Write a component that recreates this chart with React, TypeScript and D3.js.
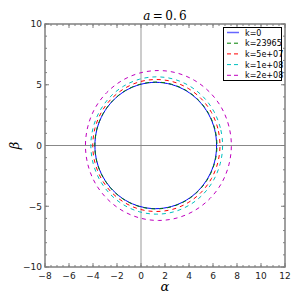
import React from "react";
import * as d3 from "d3";

// shadow outlines, [alpha, beta], going round from the right edge
const curveK0: [number, number][] = [
  [6.3, 0], [6.13, 1.35], [5.62, 2.6], [4.81, 3.68], [3.77, 4.5], [2.54, 5.02], [1.23, 5.2],
  [-0.08, 5.02], [-1.31, 4.5], [-2.35, 3.68], [-3.16, 2.6], [-3.67, 1.35], [-3.84, 0],
  [-3.67, -1.35], [-3.16, -2.6], [-2.35, -3.68], [-1.31, -4.5], [-0.08, -5.02], [1.23, -5.2],
  [2.54, -5.02], [3.77, -4.5], [4.81, -3.68], [5.62, -2.6], [6.13, -1.35],
];
const curveK23965: [number, number][] = [
  [6.33, 0], [6.16, 1.35], [5.65, 2.61], [4.84, 3.69], [3.79, 4.52], [2.56, 5.04], [1.24, 5.22],
  [-0.08, 5.04], [-1.31, 4.52], [-2.36, 3.69], [-3.17, 2.61], [-3.68, 1.35], [-3.85, 0],
  [-3.68, -1.35], [-3.17, -2.61], [-2.36, -3.69], [-1.31, -4.52], [-0.08, -5.04], [1.24, -5.22],
  [2.56, -5.04], [3.79, -4.52], [4.84, -3.69], [5.65, -2.61], [6.16, -1.35],
];
const curveK5e7: [number, number][] = [
  [6.58, 0], [6.4, 1.41], [5.87, 2.72], [5.03, 3.84], [3.93, 4.7], [2.65, 5.25], [1.28, 5.43],
  [-0.09, 5.25], [-1.37, 4.7], [-2.47, 3.84], [-3.31, 2.72], [-3.84, 1.41], [-4.02, 0],
  [-3.84, -1.41], [-3.31, -2.72], [-2.47, -3.84], [-1.37, -4.7], [-0.09, -5.25], [1.28, -5.43],
  [2.65, -5.25], [3.93, -4.7], [5.03, -3.84], [5.87, -2.72], [6.4, -1.41],
];
const curveK1e8: [number, number][] = [
  [6.8, 0], [6.61, 1.46], [6.06, 2.83], [5.19, 4.0], [4.06, 4.89], [2.73, 5.46], [1.31, 5.65],
  [-0.11, 5.46], [-1.44, 4.89], [-2.57, 4.0], [-3.44, 2.83], [-3.99, 1.46], [-4.18, 0],
  [-3.99, -1.46], [-3.44, -2.83], [-2.57, -4.0], [-1.44, -4.89], [-0.11, -5.46], [1.31, -5.65],
  [2.73, -5.46], [4.06, -4.89], [5.19, -4.0], [6.06, -2.83], [6.61, -1.46],
];
const curveK2e8: [number, number][] = [
  [7.53, 0], [7.32, 1.6], [6.72, 3.09], [5.75, 4.36], [4.49, 5.34], [3.02, 5.96], [1.45, 6.17],
  [-0.12, 5.96], [-1.59, 5.34], [-2.85, 4.36], [-3.82, 3.09], [-4.42, 1.6], [-4.63, 0],
  [-4.42, -1.6], [-3.82, -3.09], [-2.85, -4.36], [-1.59, -5.34], [-0.12, -5.96], [1.45, -6.17],
  [3.02, -5.96], [4.49, -5.34], [5.75, -4.36], [6.72, -3.09], [7.32, -1.6],
];

const seriesLabels = ["k=0", "k=23965", "k=5e+07", "k=1e+08", "k=2e+08"];
const seriesData = [curveK0, curveK23965, curveK5e7, curveK1e8, curveK2e8];
const seriesColors = ["#0000ff", "#008000", "#ff0000", "#00bfbf", "#bf00bf"];

const xTicks = [-8, -6, -4, -2, 0, 2, 4, 6, 8, 10, 12];
const yTicks = [-10, -5, 0, 5, 10];

const W = 300;
const H = 300;
const left = 45;
const right = 285;
const top = 24;
const bottom = 267;

const fmt = (v: number) => (v < 0 ? "\u2212" + Math.abs(v) : String(v));

export default function App() {
  const x = d3.scaleLinear().domain([-8, 12]).range([left, right]);
  const y = d3.scaleLinear().domain([-10, 10]).range([bottom, top]);
  const line = d3
    .line<[number, number]>()
    .x((d) => x(d[0]))
    .y((d) => y(d[1]))
    .curve(d3.curveCatmullRomClosed);

  const xMinor = x.ticks(40);
  const yMinor = y.ticks(20);
  const axisColor = "#808080";

  return (
    <svg
      width={W}
      height={H}
      style={{ position: "absolute", left: 0, top: 0, background: "#fff" }}
      fontFamily="DejaVu Sans"
    >
      <rect x={0} y={0} width={W} height={H} fill="#fff" />
      {/* zero lines */}
      <line x1={x(0)} x2={x(0)} y1={top} y2={bottom} stroke="#aaaaaa" strokeWidth={1.2} />
      <line x1={left} x2={right} y1={y(0)} y2={y(0)} stroke="#888888" strokeWidth={1} />

      {seriesData.map((pts, i) => (
        <path
          key={seriesLabels[i]}
          d={line(pts) ?? ""}
          fill="none"
          stroke={seriesColors[i]}
          strokeWidth={1}
          strokeDasharray={i === 0 ? undefined : "4,4"}
        />
      ))}

      {/* minor ticks */}
      {xMinor.map((t) => (
        <g key={"xm" + t}>
          <line x1={x(t)} x2={x(t)} y1={bottom} y2={bottom - 2} stroke={axisColor} />
          <line x1={x(t)} x2={x(t)} y1={top} y2={top + 2} stroke={axisColor} />
        </g>
      ))}
      {yMinor.map((t) => (
        <g key={"ym" + t}>
          <line x1={left} x2={left + 2} y1={y(t)} y2={y(t)} stroke={axisColor} />
          <line x1={right} x2={right - 2} y1={y(t)} y2={y(t)} stroke={axisColor} />
        </g>
      ))}
      {/* major ticks + labels */}
      {xTicks.map((t) => (
        <g key={"x" + t}>
          <line x1={x(t)} x2={x(t)} y1={bottom} y2={bottom - 4} stroke={axisColor} />
          <line x1={x(t)} x2={x(t)} y1={top} y2={top + 4} stroke={axisColor} />
          <text x={x(t)} y={bottom + 11.5} fontSize={9} textAnchor="middle" fill="#222">
            {fmt(t)}
          </text>
        </g>
      ))}
      {yTicks.map((t) => (
        <g key={"y" + t}>
          <line x1={left} x2={left + 4} y1={y(t)} y2={y(t)} stroke={axisColor} />
          <line x1={right} x2={right - 4} y1={y(t)} y2={y(t)} stroke={axisColor} />
          <text x={left - 3} y={y(t) + 3.3} fontSize={9} textAnchor="end" fill="#222">
            {fmt(t)}
          </text>
        </g>
      ))}

      <rect
        x={left}
        y={top}
        width={right - left}
        height={bottom - top}
        fill="none"
        stroke={axisColor}
        strokeWidth={1.5}
      />

      {/* title and axis labels */}
      <text x={(left + right) / 2} y={20} fontSize={12} textAnchor="middle" fontFamily="DejaVu Serif">
        <tspan fontStyle="italic">a</tspan>
        <tspan>{"\u2009=\u20090.\u20096"}</tspan>
      </text>
      <text
        x={(left + right) / 2}
        y={291}
        fontSize={13}
        textAnchor="middle"
        fontFamily="DejaVu Serif"
        fontStyle="italic"
      >
        α
      </text>
      <text
        x={19}
        y={(top + bottom) / 2}
        fontSize={13}
        textAnchor="middle"
        fontFamily="DejaVu Serif"
        fontStyle="italic"
        transform={`rotate(-90, 19, ${(top + bottom) / 2})`}
      >
        β
      </text>

      {/* legend */}
      <rect x={223.5} y={27.5} width={58} height={53} fill="#fff" stroke="#000" strokeWidth={1} />
      {seriesLabels.map((lab, i) => {
        const ly = 32.5 + i * 10.7;
        return (
          <g key={"lg" + lab}>
            <line
              x1={227}
              x2={239}
              y1={ly}
              y2={ly}
              stroke={seriesColors[i]}
              strokeWidth={i === 0 ? 1.5 : 1}
              strokeDasharray={i === 0 ? undefined : "4,3"}
              strokeOpacity={i === 0 ? 0.6 : 1}
            />
            <text x={245} y={ly + 3} fontSize={8} fill="#000">
              {lab}
            </text>
          </g>
        );
      })}
    </svg>
  );
}
